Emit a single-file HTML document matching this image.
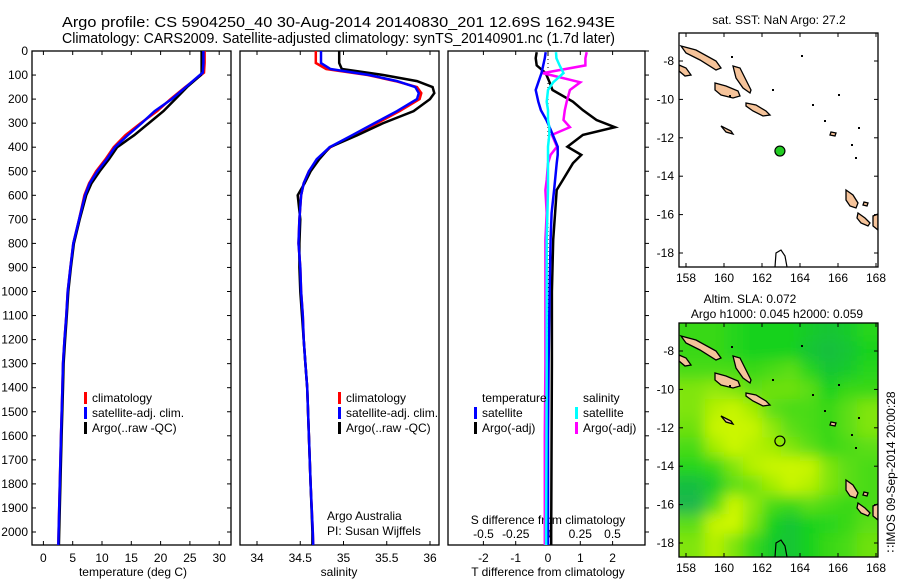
<!DOCTYPE html>
<html><head><meta charset="utf-8">
<style>
html,body{margin:0;padding:0;background:#fff;}
svg{display:block;font-family:"Liberation Sans",sans-serif;font-size:12px;}
text{fill:#000;}
</style></head>
<body>
<svg id="fig" width="900" height="580" viewBox="0 0 900 580" xmlns="http://www.w3.org/2000/svg">
<defs>
<clipPath id="c1"><rect x="32" y="51" width="199" height="494"/></clipPath>
<clipPath id="c2"><rect x="240" y="51" width="199" height="494"/></clipPath>
<clipPath id="c3"><rect x="448" y="51" width="197" height="494"/></clipPath>
<clipPath id="cm1"><rect x="679" y="33" width="199" height="234"/></clipPath>
<clipPath id="cm2"><rect x="679" y="323" width="199" height="234"/></clipPath>
<filter id="blur" x="-10%" y="-10%" width="120%" height="120%"><feGaussianBlur stdDeviation="7"/></filter>
</defs>
<text x="62" y="27" font-size="14.5" textLength="553" lengthAdjust="spacingAndGlyphs">Argo profile: CS 5904250_40 30-Aug-2014 20140830_201 12.69S 162.943E</text>
<text x="62" y="43" font-size="14.5" textLength="553" lengthAdjust="spacingAndGlyphs">Climatology: CARS2009. Satellite-adjusted climatology: synTS_20140901.nc (1.7d later)</text>
<g id="g"></g>
</svg>
<script>
// ---- data ----
const depthT = [0,50,90,100,150,200,250,300,350,400,450,500,550,600,700,800,900,1000,1100,1200,1300,1400,1600,1800,2000,2055];
const tempClim = [27.5,27.5,27.4,26.9,24.2,21.7,19.4,16.6,14.0,12.0,10.6,9.0,7.8,7.0,6.1,5.1,4.6,4.15,3.9,3.6,3.35,3.25,3.0,2.8,2.6,2.55];
const tempSat  = [27.3,27.3,27.2,26.7,24.3,21.9,19.0,16.8,14.4,12.2,10.8,9.2,7.9,7.1,6.1,5.1,4.6,4.15,3.9,3.6,3.35,3.25,3.0,2.8,2.6,2.55];
const tempArgo = [27.0,27.0,27.0,26.9,24.5,22.5,20.5,18.0,15.5,12.6,11.2,9.6,8.2,7.3,6.2,5.2,4.7,4.25,4.0,3.7,3.45,3.35,3.1,2.9,2.7,2.65];
const depthS = [0,50,75,100,125,150,175,200,250,300,350,400,450,500,550,600,700,800,900,1000,1100,1200,1300,1400,1600,1800,2000,2055];
const salClim = [34.68,34.68,34.8,35.28,35.6,35.85,35.9,35.88,35.65,35.39,35.12,34.85,34.7,34.6,34.54,34.51,34.49,34.48,34.5,34.51,34.53,34.54,34.56,34.58,34.6,34.62,34.645,34.65];
const salSat  = [34.74,34.74,34.85,35.3,35.62,35.83,35.87,35.85,35.62,35.36,35.1,34.84,34.69,34.6,34.54,34.51,34.49,34.48,34.5,34.51,34.53,34.54,34.56,34.58,34.6,34.62,34.645,34.65];
const salArgo = [34.95,34.95,34.98,35.46,35.85,36.03,36.05,36.0,35.81,35.46,35.16,34.84,34.72,34.62,34.55,34.47,34.5,34.49,34.49,34.5,34.52,34.54,34.56,34.58,34.6,34.62,34.64,34.64];
const depthD = [5,30,60,92,130,162,211,246,287,317,349,398,432,467,536,578,674,785,1000,1300,1600,2000,2055];
const tDiffSat  = [-0.07,-0.1,-0.15,-0.2,-0.3,-0.38,-0.3,-0.22,-0.05,0.05,0.15,0.3,0.3,0.27,0.22,0.19,0.11,0.08,0.05,0.02,0.0,0.0,0.0];
const tDiffArgo = [-0.35,-0.38,-0.35,-0.07,0.05,0.14,0.77,1.08,1.5,2.07,1.08,0.6,1.03,0.77,0.46,0.27,0.22,0.16,0.12,0.12,0.11,0.1,0.1];
const sDiffSat  = [0.062,0.065,0.09,0.12,0.04,0.0,-0.01,0.0,0.0,0.01,0.01,0.0,0.0,0.0,0.0,0.0,-0.005,-0.01,-0.01,-0.01,-0.012,-0.015,-0.015];
const sDiffArgo = [0.3,0.29,0.29,-0.04,0.25,0.17,0.145,0.13,0.12,0.17,0.03,0.07,0.02,0.0,-0.01,-0.02,-0.01,-0.02,-0.02,-0.02,-0.025,-0.025,-0.025];
const depthTicks = [0,100,200,300,400,500,600,700,800,900,1000,1100,1200,1300,1400,1500,1600,1700,1800,1900,2000];
const tempTicks = [0,5,10,15,20,25,30];
const salTicks = [34,34.5,35,35.5,36];
const tDiffTicks = [-2,-1,0,1,2];
const sDiffTicks = [-0.5,-0.25,0,0.25,0.5];
const lonTicks = [158,160,162,164,166,168];
const latTicks = [-8,-10,-12,-14,-16,-18];
const argoLon = 162.943, argoLat = -12.69;
// SLA field (rows lat -7..-18, cols lon 158.5..167.5), 0 = teal-green, 1 = yellow-green
const slaLats = [-7,-8,-9,-10,-11,-12,-13,-14,-15,-16,-17,-18];
const slaLons = [158.5,159.5,160.5,161.5,162.5,163.5,164.5,165.5,166.5,167.5];
const slaGrid = [
[0.4,0.4,0.35,0.3,0.3,0.3,0.25,0.2,0.25,0.35],
[0.4,0.4,0.35,0.3,0.3,0.3,0.2,0.15,0.2,0.3],
[0.45,0.45,0.45,0.4,0.45,0.5,0.35,0.2,0.25,0.35],
[0.6,0.65,0.6,0.5,0.55,0.55,0.5,0.3,0.4,0.4],
[0.6,0.75,0.8,0.7,0.5,0.45,0.45,0.4,0.5,0.6],
[0.55,0.8,0.85,0.8,0.65,0.5,0.45,0.4,0.5,0.6],
[0.45,0.7,0.85,0.75,0.7,0.6,0.5,0.4,0.45,0.5],
[0.35,0.4,0.6,0.75,0.8,0.85,0.8,0.6,0.5,0.45],
[0.15,0.25,0.5,0.55,0.7,0.8,0.75,0.6,0.5,0.45],
[0.1,0.45,0.85,0.65,0.45,0.4,0.5,0.45,0.4,0.45],
[0.5,0.8,0.9,0.6,0.3,0.2,0.3,0.35,0.4,0.5],
[0.6,0.75,0.6,0.4,0.25,0.2,0.3,0.4,0.45,0.55]];

// ---- helpers ----
const NS='http://www.w3.org/2000/svg';
const G=document.getElementById('g');
function mk(tag,attrs,parent){const e=document.createElementNS(NS,tag);for(const k in attrs)e.setAttribute(k,attrs[k]);(parent||G).appendChild(e);return e;}
function txt(x,y,s,anchor,parent){const t=mk('text',{x:x,y:y,'text-anchor':anchor||'start'},parent);t.textContent=s;return t;}
const yD=d=>51+d*0.2405;
const xT=t=>43.4+t*5.86;
const xS=s=>257+(s-34)*86.5;
const xTd=t=>548+t*32.3;
const xSd=s=>548+s*129;
const mx=lon=>686+(lon-158)*19;
const myTop=lat=>61+(-8-lat)*19.2;
function line(xs,ys,color,clip,name,w){
  const pts=xs.map((x,i)=>x.toFixed(1)+','+ys[i].toFixed(1)).join(' ');
  const p=mk('polyline',{points:pts,fill:'none',stroke:color,'stroke-width':w||2.5,'clip-path':'url(#'+clip+')'});
  
  
  return p;
}
function frame(x,y,w,h,name){
  const r=mk('rect',{x:x,y:y,width:w,height:h,fill:'none',stroke:'#000','stroke-width':1.3});
  
  
}

// ---- depth axis ----
depthTicks.forEach(d=>{
  const t=txt(28,yD(d)+4,String(d),'end');
  
  
  mk('line',{x1:32,y1:yD(d),x2:36,y2:yD(d),stroke:'#000'});
  mk('line',{x1:227,y1:yD(d),x2:231,y2:yD(d),stroke:'#000'});
  mk('line',{x1:645,y1:yD(d),x2:649,y2:yD(d),stroke:'#000'});
});

// ---- panel 1 temperature ----
frame(32,51,199,494,'temperature-panel');
tempTicks.forEach(v=>{
  mk('line',{x1:xT(v),y1:545,x2:xT(v),y2:541,stroke:'#000'});
  mk('line',{x1:xT(v),y1:51,x2:xT(v),y2:55,stroke:'#000'});
  const t=txt(xT(v),562,String(v),'middle');
  
  
});
const tt1=txt(133,576,'temperature (deg C)','middle');


line(tempClim.map(xT),depthT.map(yD),'#ff0000','c1','temperature-climatology-line');
line(tempArgo.map(xT),depthT.map(yD),'#000000','c1','temperature-argo-line');
line(tempSat.map(xT),depthT.map(yD),'#0000ff','c1','temperature-satellite-line');

// ---- panel 2 salinity ----
frame(240,51,199,494,'salinity-panel');
salTicks.forEach(v=>{
  mk('line',{x1:xS(v),y1:545,x2:xS(v),y2:541,stroke:'#000'});
  mk('line',{x1:xS(v),y1:51,x2:xS(v),y2:55,stroke:'#000'});
  const t=txt(xS(v),562,String(v),'middle');
  
  
});
const tt2=txt(339,576,'salinity','middle');


line(salClim.map(xS),depthS.map(yD),'#ff0000','c2','salinity-climatology-line');
line(salArgo.map(xS),depthS.map(yD),'#000000','c2','salinity-argo-line');
line(salSat.map(xS),depthS.map(yD),'#0000ff','c2','salinity-satellite-line');

// ---- panel 3 differences ----
frame(448,51,197,494,'difference-panel');
mk('line',{x1:548,y1:51,x2:548,y2:545,stroke:'#000','stroke-dasharray':'1,3'});
tDiffTicks.forEach(v=>{
  mk('line',{x1:xTd(v),y1:545,x2:xTd(v),y2:541,stroke:'#000'});
  mk('line',{x1:xTd(v),y1:51,x2:xTd(v),y2:55,stroke:'#000'});
  const t=txt(xTd(v),562,String(v),'middle');
  
  
});
sDiffTicks.forEach(v=>{
  const t=txt(xSd(v),538,String(v),'middle');
  
  
});
const st=txt(548,524,'S difference from climatology','middle');


const tt3=txt(548,576,'T difference from climatology','middle');


line(tDiffArgo.map(xTd),depthD.map(yD),'#000000','c3','t-difference-argo-line');
line(sDiffArgo.map(xSd),depthD.map(yD),'#ff00ff','c3','s-difference-argo-line');
line(tDiffSat.map(xTd),depthD.map(yD),'#0000ff','c3','t-difference-satellite-line');
line(sDiffSat.map(xSd),depthD.map(yD),'#00ffff','c3','s-difference-satellite-line');

// ---- legends ----
function legend(x,y,color,label,name){
  const g=mk('g',{});
  
  
  mk('rect',{x:x,y:y-10,width:3,height:12,fill:color},g);
  txt(x+8,y,label,'start',g);
}
legend(84,402,'#ff0000','climatology','legend-temp-climatology');
legend(84,417,'#0000ff','satellite-adj. clim.','legend-temp-satellite');
legend(84,432,'#000000','Argo(..raw -QC)','legend-temp-argo');
legend(338,402,'#ff0000','climatology','legend-sal-climatology');
legend(338,417,'#0000ff','satellite-adj. clim.','legend-sal-satellite');
legend(338,432,'#000000','Argo(..raw -QC)','legend-sal-argo');
const lt=txt(482,402,'temperature','start');  
const ls=txt(583,402,'salinity','start');  
legend(474,417,'#0000ff','satellite','legend-t-diff-satellite');
legend(474,432,'#000000','Argo(-adj)','legend-t-diff-argo');
legend(575,417,'#00ffff','satellite','legend-s-diff-satellite');
legend(575,432,'#ff00ff','Argo(-adj)','legend-s-diff-argo');
const c1=txt(327,520,'Argo Australia','start');  
const c2=txt(327,535,'PI: Susan Wijffels','start');  

// ---- maps ----
const islands=[
 [[2,13],[17,17],[37,28],[42,35],[37,37],[21,27],[7,20]],
 [[54,33],[61,35],[67,47],[72,57],[71,60],[64,55],[57,45]],
 [[36,50],[47,53],[59,58],[61,63],[54,65],[42,62],[36,57]],
 [[67,70],[77,72],[87,78],[91,82],[84,83],[74,78],[67,73]],
 [[0,32],[7,35],[12,42],[6,43],[0,38]],
 [[42,93],[52,98],[54,101],[47,99]],
 [[167,157],[174,162],[179,170],[177,175],[171,173],[167,167]],
 [[179,180],[186,185],[191,190],[189,193],[182,190],[178,185]],
 [[194,183],[199,181],[199,197],[194,193]],
 [[152,99],[157,100],[156,103],[151,102]],
 [[185,169],[189,170],[188,173],[184,172]]
];
const dots=[[50,62],[93,56],[52,23],[179,94],[172,111],[176,124],[145,87],[133,71],[122,22],[159,61]];
function drawMap(oy,clip,name,green){
  const g=mk('g',{'clip-path':'url(#'+clip+')'});
  
  
  const my=lat=>myTop(lat)+oy;
  if(green){
    const fg=mk('g',{filter:'url(#blur)'},g);
    const col=v=>{const st=[[0,[30,170,100]],[0.3,[20,210,30]],[0.55,[110,225,15]],[0.8,[200,245,0]],[1,[215,250,0]]];
      for(let i=0;i<st.length-1;i++){if(v<=st[i+1][0]){const f=(v-st[i][0])/(st[i+1][0]-st[i][0]);const a=st[i][1],b=st[i+1][1];return 'rgb('+a.map((c,k)=>Math.round(c+(b[k]-c)*f)).join(',')+')';}}return 'rgb(215,250,0)';};
    slaGrid.forEach((row,r)=>row.forEach((v,c)=>{
      const cell=mk('rect',{x:mx(slaLons[c]-0.5)-(c===0?20:0),y:my(slaLats[r]+0.5)-(r===0?20:0),width:19+(c===0||c===row.length-1?20:0)+1,height:19.2+(r===0||r===slaGrid.length-1?20:0)+1,fill:col(v)},fg);
      
      
    }));
  }
  islands.forEach(p=>{
    const isl=mk('polygon',{points:p.map(q=>(679+q[0])+','+(33+oy+q[1])).join(' '),fill:'#f5c39a',stroke:'#000','stroke-width':1.3},g);
    
    
  });
  dots.forEach(d=>mk('rect',{x:679+d[0],y:33+oy+d[1],width:2,height:2,fill:'#000'},g));
  mk('polyline',{points:[[96,234],[97,220],[102,217],[106,223],[108,234]].map(q=>(679+q[0])+','+(33+oy+q[1])).join(' '),fill:'none',stroke:'#000','stroke-width':1.2},g);
  const pt=mk('circle',{cx:mx(argoLon),cy:my(argoLat),r:5,fill:green?'none':'#22cc22',stroke:'#000','stroke-width':1.2});
  
  
  frame(679,33+oy,199,234,name+'-frame');
  lonTicks.forEach(v=>{
    mk('line',{x1:mx(v),y1:267+oy,x2:mx(v),y2:263+oy,stroke:'#000'});
    mk('line',{x1:mx(v),y1:33+oy,x2:mx(v),y2:37+oy,stroke:'#000'});
    const t=txt(mx(v),282+oy,String(v),'middle');
    
    
  });
  latTicks.forEach(v=>{
    mk('line',{x1:679,y1:my(v),x2:683,y2:my(v),stroke:'#000'});
    mk('line',{x1:874,y1:my(v),x2:878,y2:my(v),stroke:'#000'});
    const t=txt(674,my(v)+4,String(v),'end');
    
    
  });
}
drawMap(0,'cm1','sst-map',false);
drawMap(290,'cm2','sla-map',true);
const m1=txt(779,24,'sat. SST: NaN Argo: 27.2','middle');  
const m2=txt(750,303,'Altim. SLA: 0.072','middle');  
const m3=txt(777,318,'Argo h1000: 0.045 h2000: 0.059','middle');  
const im=txt(0,0,'\u2237IMOS 09-Sep-2014 20:00:28','middle');
im.setAttribute('transform','translate(895,472) rotate(-90)');


</script>
</body></html>
